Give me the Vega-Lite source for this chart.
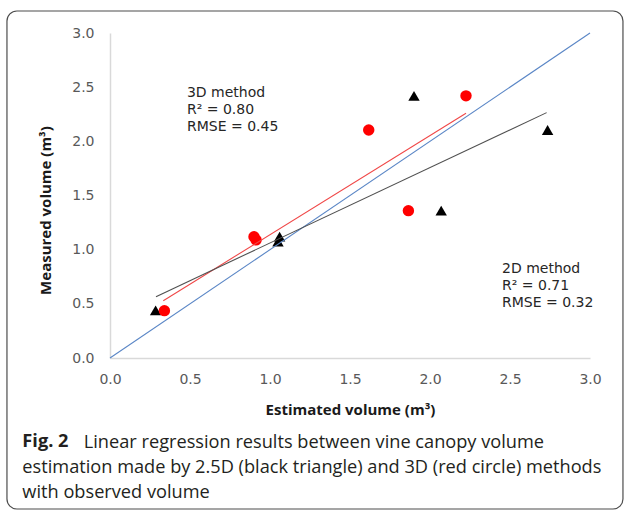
{
  "$schema": "https://vega.github.io/schema/vega-lite/v6.json",
  "autosize": "none",
  "width": 480,
  "height": 325,
  "padding": {"left": 110, "top": 33, "right": 37, "bottom": 153},
  "background": "white",
  "config": {"view": {"stroke": null}},
  "title": {
    "text": "Fig. 2",
    "subtitle": ["\u200b\u00a0\u00a0\u00a0\u00a0\u00a0\u00a0\u00a0\u00a0\u00a0\u00a0\u00a0\u00a0\u00a0Linear regression results between vine canopy volume", "estimation made by 2.5D (black triangle) and 3D (red circle) methods", "with observed volume"],
    "orient": "bottom",
    "anchor": "start",
    "frame": "bounds",
    "font": "Open Sans",
    "fontSize": 18.2,
    "fontWeight": "bold",
    "lineHeight": 25,
    "color": "#231f20",
    "subtitleFont": "Open Sans",
    "subtitleFontSize": 18.2,
    "subtitleFontWeight": "normal",
    "subtitleColor": "#231f20",
    "subtitleLineHeight": 25,
    "subtitlePadding": -17,
    "offset": 15,
    "dx": 16,
    "dy": -92
  },
  "resolve": {"scale": {"color": "independent"}},
  "datasets": {
    "frame": [
      {"left": -0.644, "right": 3.206, "top": 3.203, "bottom": -1.394}
    ],
    "points": [
      {"method": "2.5D", "estimated": 0.285, "measured": 0.44},
      {"method": "2.5D", "estimated": 1.05, "measured": 1.075},
      {"method": "2.5D", "estimated": 1.06, "measured": 1.12},
      {"method": "2.5D", "estimated": 1.90, "measured": 2.42},
      {"method": "2.5D", "estimated": 2.07, "measured": 1.36},
      {"method": "2.5D", "estimated": 2.735, "measured": 2.105},
      {"method": "3D", "estimated": 0.34, "measured": 0.437},
      {"method": "3D", "estimated": 0.90, "measured": 1.12},
      {"method": "3D", "estimated": 0.913, "measured": 1.09},
      {"method": "3D", "estimated": 1.617, "measured": 2.105},
      {"method": "3D", "estimated": 1.865, "measured": 1.36},
      {"method": "3D", "estimated": 2.225, "measured": 2.42}
    ],
    "lines": [
      {"fit": "1:1", "estimated": 0, "measured": 0},
      {"fit": "1:1", "estimated": 3, "measured": 3},
      {"fit": "3D fit", "estimated": 0.333, "measured": 0.529},
      {"fit": "3D fit", "estimated": 2.225, "measured": 2.259},
      {"fit": "2D fit", "estimated": 0.2875, "measured": 0.566},
      {"fit": "2D fit", "estimated": 2.729, "measured": 2.265}
    ],
    "notes": [
      {"estimated": 0.481, "measured": 2.41, "note": "3D method\nR² = 0.80\nRMSE = 0.45"},
      {"estimated": 2.45, "measured": 0.785, "note": "2D method\nR² = 0.71\nRMSE = 0.32"}
    ]
  },
  "encoding": {
    "x": {
      "field": "estimated", "type": "quantitative",
      "scale": {"domain": [0, 3], "nice": false},
      "axis": {
        "title": "Estimated volume (m³)",
        "values": [0, 0.5, 1, 1.5, 2, 2.5, 3],
        "format": ".1f",
        "grid": false, "ticks": false, "labelFlush": false,
        "domainColor": "#d9d9d9", "domainWidth": 1.5,
        "labelFont": "DejaVu Sans", "labelFontSize": 14, "labelColor": "#595959",
        "labelPadding": 14,
        "titleFont": "Open Sans", "titleFontSize": 15, "titleFontWeight": "bold", "titleColor": "#1a1a1a",
        "titlePadding": 16
      }
    },
    "y": {
      "field": "measured", "type": "quantitative",
      "scale": {"domain": [0, 3], "nice": false},
      "axis": {
        "title": "Measured volume (m³)",
        "values": [0, 0.5, 1, 1.5, 2, 2.5, 3],
        "format": ".1f",
        "grid": false, "ticks": false, "labelFlush": false,
        "domainColor": "#d9d9d9", "domainWidth": 1.5,
        "labelFont": "DejaVu Sans", "labelFontSize": 14, "labelColor": "#595959",
        "labelPadding": 16,
        "titleFont": "Open Sans", "titleFontSize": 15, "titleFontWeight": "bold", "titleColor": "#1a1a1a",
        "titlePadding": 18,
        "titleY": 177
      }
    }
  },
  "layer": [
    {
      "data": {"name": "frame"},
      "mark": {"type": "rect", "filled": false, "color": "#4d4d4d", "strokeWidth": 1.2, "cornerRadius": 10, "clip": false},
      "encoding": {
        "x": {"field": "left", "type": "quantitative"},
        "x2": {"field": "right"},
        "y": {"field": "top", "type": "quantitative"},
        "y2": {"field": "bottom"}
      }
    },
    {
      "data": {"name": "points"},
      "mark": {"type": "point", "filled": true, "opacity": 1, "size": 130},
      "encoding": {
        "shape": {"field": "method", "type": "nominal", "scale": {"domain": ["2.5D", "3D"], "range": ["triangle-up", "circle"]}, "legend": null},
        "color": {"field": "method", "type": "nominal", "scale": {"domain": ["2.5D", "3D"], "range": ["#000000", "#ff0000"]}, "legend": null}
      }
    },
    {
      "data": {"name": "lines"},
      "mark": {"type": "line", "strokeWidth": 1.1},
      "encoding": {
        "color": {"field": "fit", "type": "nominal", "scale": {"domain": ["1:1", "3D fit", "2D fit"], "range": ["#5a86c6", "#f04848", "#505050"]}, "legend": null}
      }
    },
    {
      "data": {"name": "notes"},
      "mark": {"type": "text", "align": "left", "baseline": "alphabetic", "lineBreak": "\n", "lineHeight": 17, "font": "DejaVu Sans", "fontSize": 14, "color": "#262626"},
      "encoding": {"text": {"field": "note"}}
    }
  ]
}
